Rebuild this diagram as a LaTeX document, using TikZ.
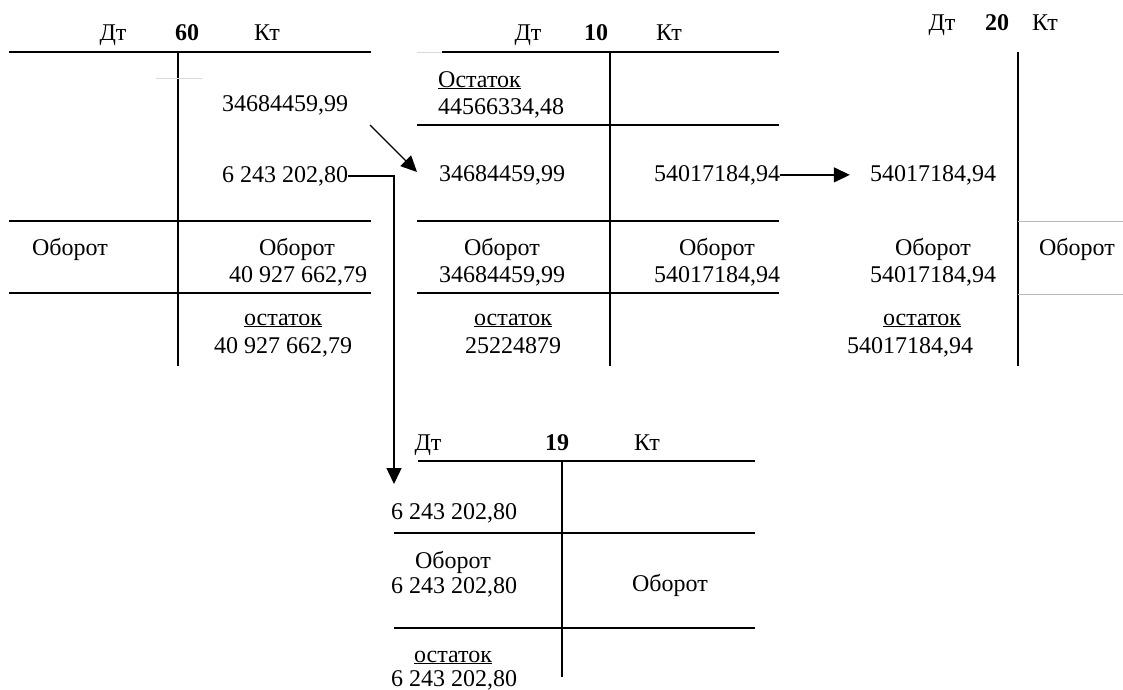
\documentclass[tikz,border=0pt]{standalone}
\usepackage{fontspec}
\setmainfont{Liberation Serif}
\usetikzlibrary{arrows.meta}

\begin{document}
\begin{tikzpicture}[
    x=1pt, y=-1pt,
    txt/.style={inner sep=0pt, anchor=base},
    txtl/.style={inner sep=0pt, anchor=base west},
    rule/.style={line width=1.8pt},
    faint/.style={line width=0.8pt, gray!55},
    >={Triangle[length=16pt,width=15pt]},
    font=\fontsize{24}{27}\selectfont
    ]
    \useasboundingbox (0,0) rectangle (1123,689);

    % account 60
    \node[txt] (dt60) at (113,40) {Дт};
    \node[txt] (n60) at (187,40) {\textbf{60}};
    \node[txt] (kt60) at (267,40) {Кт};
    \node[txt] (k60a) at (285,111) {34684459,99};
    \node[txt] (k60b) at (285,182) {6 243 202,80};
    \node[txt] (ob60d) at (70,255) {Оборот};
    \node[txt] (ob60k) at (297,255) {Оборот};
    \node[txt] (sum60k) at (298,282) {40 927 662,79};
    \node[txt] (os60) at (283,325) {\underline{остаток}};
    \node[txt] (ost60) at (283,353) {40 927 662,79};

    \draw[rule] (9,52) -- (371,52);
    \draw[rule] (9,221) -- (371,221);
    \draw[rule] (9,293) -- (371,293);
    \draw[rule] (178,52) -- (178,366);
    \draw[faint, gray!30] (156,78) -- (202,78);

    % account 10
    \node[txt] (dt10) at (528,40) {Дт};
    \node[txt] (n10) at (596,40) {\textbf{10}};
    \node[txt] (kt10) at (669,40) {Кт};
    \node[txtl] (os10a) at (438,87) {\underline{Остаток}};
    \node[txtl] (ost10a) at (438,114) {44566334,48};
    \node[txtl] (d10b) at (439,181) {34684459,99};
    \node[txt] (k10b) at (717,181) {54017184,94};
    \node[txt] (ob10d) at (502,255) {Оборот};
    \node[txt] (sum10d) at (502,282) {34684459,99};
    \node[txt] (ob10k) at (717,255) {Оборот};
    \node[txt] (sum10k) at (717,282) {54017184,94};
    \node[txt] (os10) at (513,325) {\underline{остаток}};
    \node[txt] (ost10) at (513,353) {25224879};

    \draw[faint, gray!30] (417,52) -- (442,52);
    \draw[rule] (442,52) -- (779,52);
    \draw[rule] (417,125) -- (779,125);
    \draw[rule] (417,221) -- (779,221);
    \draw[rule] (417,293) -- (779,293);
    \draw[rule] (610,52) -- (610,366);

    % account 20
    \node[txt] (dt20) at (942,30) {Дт};
    \node[txt] (n20) at (997,30) {\textbf{20}};
    \node[txt] (kt20) at (1045,30) {Кт};
    \node[txt] (d20b) at (933,181) {54017184,94};
    \node[txt] (ob20d) at (933,255) {Оборот};
    \node[txt] (sum20d) at (933,282) {54017184,94};
    \node[txt] (ob20k) at (1077,255) {Оборот};
    \node[txt] (os20) at (922,325) {\underline{остаток}};
    \node[txt] (ost20) at (910,353) {54017184,94};

    \draw[rule] (1018,52) -- (1018,366);
    \draw[faint] (1018,221) -- (1123,221);
    \draw[faint] (1018,294) -- (1123,294);

    % account 19
    \node[txt] (dt19) at (428,450) {Дт};
    \node[txt] (n19) at (557,450) {\textbf{19}};
    \node[txt] (kt19) at (647,450) {Кт};
    \node[txtl] (d19a) at (391,519) {6 243 202,80};
    \node[txt] (ob19d) at (453,568) {Оборот};
    \node[txt] (sum19d) at (454,593) {6 243 202,80};
    \node[txt] (ob19k) at (670,591) {Оборот};
    \node[txt] (os19) at (453,662) {\underline{остаток}};
    \node[txt] (ost19) at (454,686) {6 243 202,80};

    \draw[rule] (418,461) -- (755,461);
    \draw[rule] (394,533) -- (755,533);
    \draw[rule] (394,628) -- (755,628);
    \draw[rule] (562,461) -- (562,677);

    % postings
    \coordinate (s1) at (370,125);
    \coordinate (t1) at (417,172);
    \coordinate (t2) at (394,484);

    \draw[->, line width=1.4pt] (s1) -- (t1);
    \draw[->, line width=1.4pt] (k60b.east) -| (t2);
    \draw[->, line width=1.4pt, shorten >=20pt] (k10b.east) -- (d20b.west);

\end{tikzpicture}
\end{document}
